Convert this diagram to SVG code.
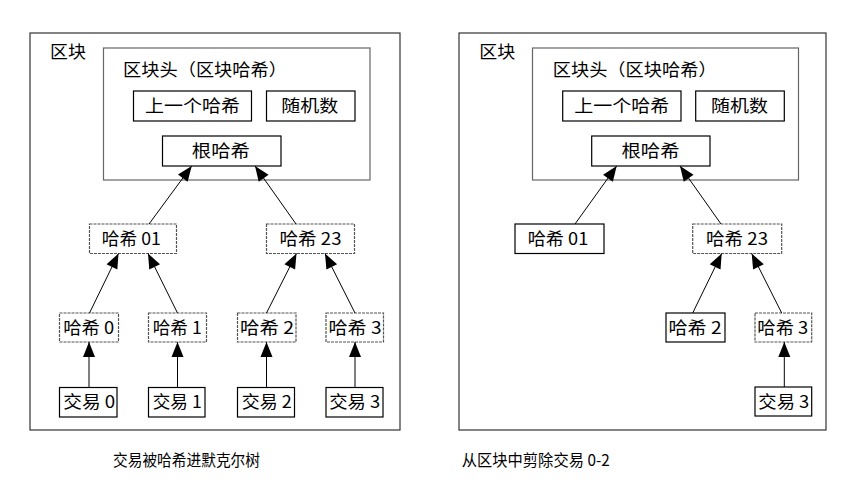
<svg xmlns="http://www.w3.org/2000/svg" width="850" height="482" viewBox="0 0 850 482">
<style>
text{font-family:"Noto Sans CJK SC","Noto Sans",sans-serif;font-size:17px;fill:#000}
.c{text-anchor:middle}
.cap{font-size:16px}
.outer{fill:#fff;stroke:#333;stroke-width:1.2}
.hdr{fill:#fff;stroke:#666;stroke-width:1.2}
.box{fill:#fff;stroke:#000;stroke-width:1.2}
.dash{fill:#fff;stroke:#555;stroke-width:1.2;stroke-dasharray:3 1}
.conn line{stroke:#000;stroke-width:1;marker-end:url(#ah)}
</style>
<defs>
<marker id="ah" markerUnits="userSpaceOnUse" markerWidth="16" markerHeight="12" refX="15" refY="6" orient="auto" overflow="visible">
<path d="M0,0 L15,6 L0,12 z" fill="#000"/>
</marker>
</defs>
<rect width="850" height="482" fill="#fff"/>

<!-- Left panel -->
<g id="left-block">
<rect class="outer" x="30" y="33" width="370" height="397"/>
<text x="50" y="58" textLength="36" lengthAdjust="spacingAndGlyphs">区块</text>
</g>
<g id="left-header">
<rect class="hdr" x="103.5" y="48" width="266.5" height="132"/>
<text x="123" y="75.5" textLength="164" lengthAdjust="spacingAndGlyphs">区块头（区块哈希）</text>
</g>
<g id="left-prev"><rect class="box" x="133.5" y="91" width="118" height="30"/><text class="c" x="192.5" y="112" textLength="95" lengthAdjust="spacingAndGlyphs">上一个哈希</text></g>
<g id="left-nonce"><rect class="box" x="266.5" y="91" width="88.5" height="30"/><text class="c" x="309.7" y="112" textLength="57" lengthAdjust="spacingAndGlyphs">随机数</text></g>
<g id="left-root"><rect class="box" x="162.5" y="136" width="118.5" height="30"/><text class="c" x="220.8" y="157" textLength="58" lengthAdjust="spacingAndGlyphs">根哈希</text></g>
<g id="left-h01"><rect class="dash" x="89.5" y="224" width="87" height="29.5"/><text class="c" x="131.3" y="244.5" textLength="59" lengthAdjust="spacingAndGlyphs">哈希 01</text></g>
<g id="left-h23"><rect class="dash" x="266.5" y="224" width="88" height="29.5"/><text class="c" x="310.5" y="244.5" textLength="62" lengthAdjust="spacingAndGlyphs">哈希 23</text></g>
<g id="left-h0"><rect class="dash" x="59.5" y="313" width="59" height="29"/><text class="c" x="88.7" y="333.5" textLength="51" lengthAdjust="spacingAndGlyphs">哈希 0</text></g>
<g id="left-h1"><rect class="dash" x="148.5" y="313" width="58" height="29"/><text class="c" x="177.2" y="333.5" textLength="49" lengthAdjust="spacingAndGlyphs">哈希 1</text></g>
<g id="left-h2"><rect class="dash" x="237.5" y="313" width="58.5" height="29"/><text class="c" x="267" y="333.5" textLength="54" lengthAdjust="spacingAndGlyphs">哈希 2</text></g>
<g id="left-h3"><rect class="dash" x="326" y="313" width="57.5" height="29"/><text class="c" x="355" y="333.5" textLength="53" lengthAdjust="spacingAndGlyphs">哈希 3</text></g>
<g id="left-t0"><rect class="box" x="59.5" y="387.5" width="57.5" height="29.5"/><text class="c" x="89.2" y="408" textLength="52" lengthAdjust="spacingAndGlyphs">交易 0</text></g>
<g id="left-t1"><rect class="box" x="148.5" y="387.5" width="56.5" height="29.5"/><text class="c" x="177.2" y="408" textLength="49" lengthAdjust="spacingAndGlyphs">交易 1</text></g>
<g id="left-t2"><rect class="box" x="237.5" y="387.5" width="57" height="29.5"/><text class="c" x="266.7" y="408" textLength="50" lengthAdjust="spacingAndGlyphs">交易 2</text></g>
<g id="left-t3"><rect class="box" x="326" y="387.5" width="57" height="29.5"/><text class="c" x="354.7" y="408" textLength="51" lengthAdjust="spacingAndGlyphs">交易 3</text></g>

<!-- Right panel -->
<g id="right-block">
<rect class="outer" x="459" y="33" width="367" height="397"/>
<text x="479.3" y="58" textLength="36" lengthAdjust="spacingAndGlyphs">区块</text>
</g>
<g id="right-header">
<rect class="hdr" x="532.5" y="48" width="266" height="132"/>
<text x="552.7" y="75.5" textLength="164" lengthAdjust="spacingAndGlyphs">区块头（区块哈希）</text>
</g>
<g id="right-prev"><rect class="box" x="562.7" y="91" width="118.3" height="30"/><text class="c" x="621.7" y="112" textLength="95" lengthAdjust="spacingAndGlyphs">上一个哈希</text></g>
<g id="right-nonce"><rect class="box" x="695.7" y="91" width="88.6" height="30"/><text class="c" x="739.5" y="112" textLength="57" lengthAdjust="spacingAndGlyphs">随机数</text></g>
<g id="right-root"><rect class="box" x="591.7" y="136" width="118.3" height="30"/><text class="c" x="650.5" y="157" textLength="58" lengthAdjust="spacingAndGlyphs">根哈希</text></g>
<g id="right-h01"><rect class="box" x="515" y="224" width="89" height="29.5"/><text class="c" x="558" y="244.5" textLength="60.6" lengthAdjust="spacingAndGlyphs">哈希 01</text></g>
<g id="right-h23"><rect class="dash" x="692.7" y="224" width="89" height="29.5"/><text class="c" x="737" y="244.5" textLength="62" lengthAdjust="spacingAndGlyphs">哈希 23</text></g>
<g id="right-h2"><rect class="box" x="666" y="313" width="59" height="29"/><text class="c" x="695" y="333.5" textLength="53" lengthAdjust="spacingAndGlyphs">哈希 2</text></g>
<g id="right-h3"><rect class="dash" x="755" y="313" width="56.7" height="29"/><text class="c" x="782.8" y="333.5" textLength="51" lengthAdjust="spacingAndGlyphs">哈希 3</text></g>
<g id="right-t3"><rect class="box" x="755" y="387" width="56.7" height="29"/><text class="c" x="783.8" y="407.5" textLength="51" lengthAdjust="spacingAndGlyphs">交易 3</text></g>

<g id="connectors" class="conn">
<line x1="89" y1="387.5" x2="89" y2="342"/>
<line x1="177.5" y1="387.5" x2="177.5" y2="342"/>
<line x1="266.5" y1="387.5" x2="266.5" y2="342"/>
<line x1="355" y1="387.5" x2="355" y2="342"/>
<line x1="89.5" y1="313" x2="118.5" y2="253.5"/>
<line x1="177.5" y1="313" x2="148" y2="253.5"/>
<line x1="266.5" y1="313" x2="296.5" y2="253.5"/>
<line x1="355" y1="313" x2="325" y2="253.5"/>
<line x1="149" y1="224" x2="191.7" y2="166"/>
<line x1="296" y1="224" x2="255" y2="166"/>
<line x1="575" y1="224" x2="616.7" y2="166"/>
<line x1="721" y1="224" x2="680" y2="166"/>
<line x1="692.7" y1="313" x2="721.7" y2="253.5"/>
<line x1="781.7" y1="313" x2="751.7" y2="253.5"/>
<line x1="784.3" y1="387" x2="784.3" y2="342"/>
</g>

<text class="cap" x="113" y="465.5" textLength="147" lengthAdjust="spacingAndGlyphs">交易被哈希进默克尔树</text>
<text class="cap" x="461.7" y="465.5" textLength="148" lengthAdjust="spacingAndGlyphs">从区块中剪除交易 0-2</text>
</svg>
